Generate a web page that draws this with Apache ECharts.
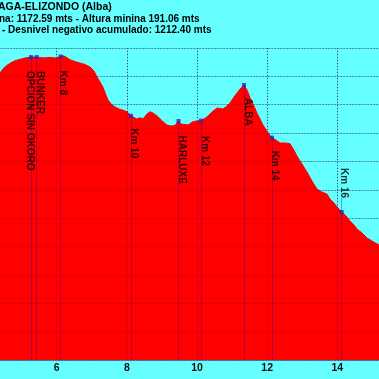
<!DOCTYPE html>
<html><head><meta charset="utf-8">
<script src="https://cdn.jsdelivr.net/npm/echarts@6/dist/echarts.min.js"></script>
<style>html,body{margin:0;padding:0;background:#66ffff;overflow:hidden;width:379px;height:379px;position:relative}#c{position:absolute;left:-14px;top:0;width:436px;height:379px}</style>
</head><body><div id="c"></div>
<script>
// ---- data ----
const titleLines = [
  'AGA-ELIZONDO (Alba)',
  'na: 1172.59 mts - Altura minina 191.06 mts',
  '- Desnivel negativo acumulado: 1212.40 mts'
];
const dist = [4.355, 4.383, 4.526, 4.669, 4.811, 4.954, 5.096, 5.267, 5.430, 5.610, 5.809, 5.951, 6.114, 6.180, 6.266, 6.379, 6.521, 6.664, 6.806, 6.949, 7.063, 7.149, 7.235, 7.320, 7.406, 7.462, 7.576, 7.662, 7.776, 7.890, 8.004, 8.118, 8.280, 8.374, 8.460, 8.574, 8.660, 8.745, 8.888, 9.031, 9.144, 9.258, 9.372, 9.473, 9.544, 9.600, 9.743, 9.885, 9.999, 10.113, 10.198, 10.284, 10.427, 10.569, 10.655, 10.740, 10.855, 10.940, 11.054, 11.139, 11.225, 11.340, 11.425, 11.510, 11.624, 11.709, 11.795, 11.880, 11.994, 12.080, 12.137, 12.251, 12.365, 12.508, 12.650, 12.764, 12.850, 12.992, 13.135, 13.278, 13.420, 13.563, 13.705, 13.791, 13.905, 14.019, 14.125, 14.248, 14.361, 14.475, 14.561, 14.704, 14.846, 14.989, 15.188, 15.25];
const elev = [1108, 1111, 1134, 1146, 1155, 1160, 1164.5, 1168, 1168, 1165, 1167, 1164.5, 1170, 1172.59, 1168, 1159, 1152, 1147, 1142, 1133, 1119, 1098, 1080, 1062, 1034, 1017, 999, 992, 985, 981, 975, 961, 950, 954, 950, 967, 975, 971, 958, 940, 928.5, 925, 927, 942.6, 932, 927, 928.5, 940, 942.6, 944, 950, 957, 974, 988.5, 987, 985, 995.5, 1006, 1027, 1041, 1055, 1069.5, 1052, 1025.5, 995.5, 971, 950, 928.5, 907, 891.5, 884, 875.6, 865, 865, 863, 840, 819, 791, 763, 731, 703, 692, 685, 667.6, 653.5, 636, 621.8, 608, 590, 576, 562, 548, 530, 519.5, 505.4, 503];
const markerNames = ['OPCION SIN OKORO', 'BUNKER', 'Km 8', 'Km 10', 'HARLUXE', 'Km 12', 'ALBA', 'Km 14', 'Km 16'];
const markerDist = [5.267, 5.430, 6.114, 8.118, 9.473, 10.113, 11.340, 12.137, 14.125];
const markerElev = [1168, 1168, 1170, 961, 942.6, 944, 1069.5, 884, 621.8];
const xMin = 4, xMax = 16, xStep = 2;
const yMin = 100, yMax = 1200, yStep = 100;

// ---- layout / style ----
const SHIFT = 14; // container is shifted 14px to the left of the page
const GRID = {left: 0.55, top: 48, width: 420.9, height: 312, outerBoundsMode: 'none', containLabel: false};
const FONT = '"Liberation Sans", Arial, sans-serif';
const labelCfg = {
  'OPCION SIN OKORO': {dx: -1.7, dy: 14},
  'BUNKER': {dx: 3.3, dy: 14},
  'Km 8': {dx: 2.3, dy: 14},
  'Km 10': {dx: 3, dy: 12.5},
  'HARLUXE': {dx: 3.4, dy: 14.5},
  'Km 12': {dx: 3.6, dy: 15.5},
  'ALBA': {dx: 4, dy: 13},
  'Km 14': {dx: 2.8, dy: 13},
  'Km 16': {dx: 2.5, dy: -14, above: true}
};
const pxToElev = (yMax - yMin) / GRID.height;
const SYM = 4;
const labelText = {color: '#000', fontWeight: 'bold', fontSize: 10, fontFamily: FONT};
const gridDots = {color: '#1d6a8a', type: [1, 2], width: 1};
const gridOverlay = {color: 'rgba(60,0,90,0.14)', width: 1};

const markerData = markerNames.map((n, i) => {
  const c = labelCfg[n];
  return {
    name: n,
    value: [markerDist[i], markerElev[i]],
    label: Object.assign({
      show: true,
      position: [SYM / 2 + c.dx, SYM / 2 + c.dy],
      align: c.above ? 'right' : 'left',
      verticalAlign: 'middle',
      rotate: -90
    }, labelText)
  };
});
const markLines = markerNames.map((n, i) => {
  const c = labelCfg[n];
  const top = c.above ? markerElev[i] + (-c.dy) * pxToElev : markerElev[i];
  return [{coord: [markerDist[i], top]}, {coord: [markerDist[i], yMin]}];
});

const chart = echarts.init(document.getElementById('c'), null, {renderer: 'canvas'});
chart.setOption({
  animation: false,
  backgroundColor: '#66ffff',
  grid: [Object.assign({}, GRID), Object.assign({}, GRID)],
  xAxis: [{
    type: 'value', gridIndex: 0, min: xMin, max: xMax, interval: xStep,
    axisLine: {show: true, lineStyle: {color: 'rgba(70,0,90,0.35)'}},
    axisTick: {show: false},
    axisLabel: {color: '#111', fontWeight: 'bold', fontSize: 10.5, fontFamily: FONT, margin: 3,
                showMinLabel: false, showMaxLabel: false},
    splitLine: {show: true, lineStyle: gridDots}
  }, {
    type: 'value', gridIndex: 1, min: xMin, max: xMax, interval: xStep, z: 10,
    axisLine: {show: false}, axisTick: {show: false}, axisLabel: {show: false},
    splitLine: {show: true, lineStyle: gridOverlay}
  }],
  yAxis: [{
    type: 'value', gridIndex: 0, min: yMin, max: yMax, interval: yStep,
    axisLine: {show: false}, axisTick: {show: false}, axisLabel: {show: false},
    splitLine: {show: true, lineStyle: gridDots}
  }, {
    type: 'value', gridIndex: 1, min: yMin, max: yMax, interval: yStep, z: 10,
    axisLine: {show: false}, axisTick: {show: false}, axisLabel: {show: false},
    splitLine: {show: true, lineStyle: gridOverlay}
  }],
  series: [{
    type: 'line', xAxisIndex: 0, yAxisIndex: 0, z: 2, silent: true,
    data: dist.map((d, i) => [d, elev[i]]),
    showSymbol: false, symbol: 'none',
    lineStyle: {color: '#ff0000', width: 1},
    areaStyle: {color: '#ff0000', opacity: 1}
  }, {
    type: 'scatter', xAxisIndex: 0, yAxisIndex: 0, z: 12, silent: true,
    symbol: 'rect', symbolSize: SYM,
    itemStyle: {color: '#2424c8'},
    data: markerData,
    label: Object.assign({show: true, formatter: '{b}', rotate: -90}, labelText),
    markLine: {
      silent: true, symbol: ['none', 'none'], label: {show: false},
      lineStyle: {color: 'rgba(40,0,170,0.35)', width: 1, type: 'solid'},
      data: markLines
    }
  }],
  graphic: titleLines.map((t, i) => ({
    type: 'text',
    x: SHIFT + [-2, -1, 2][i],
    y: [1.5, 13.8, 25.5][i],
    style: {
      text: t,
      font: 'bold ' + (i === 0 ? 10.5 : 10) + 'px ' + FONT,
      fill: '#000'
    }
  }))
});
</script>
</body></html>
